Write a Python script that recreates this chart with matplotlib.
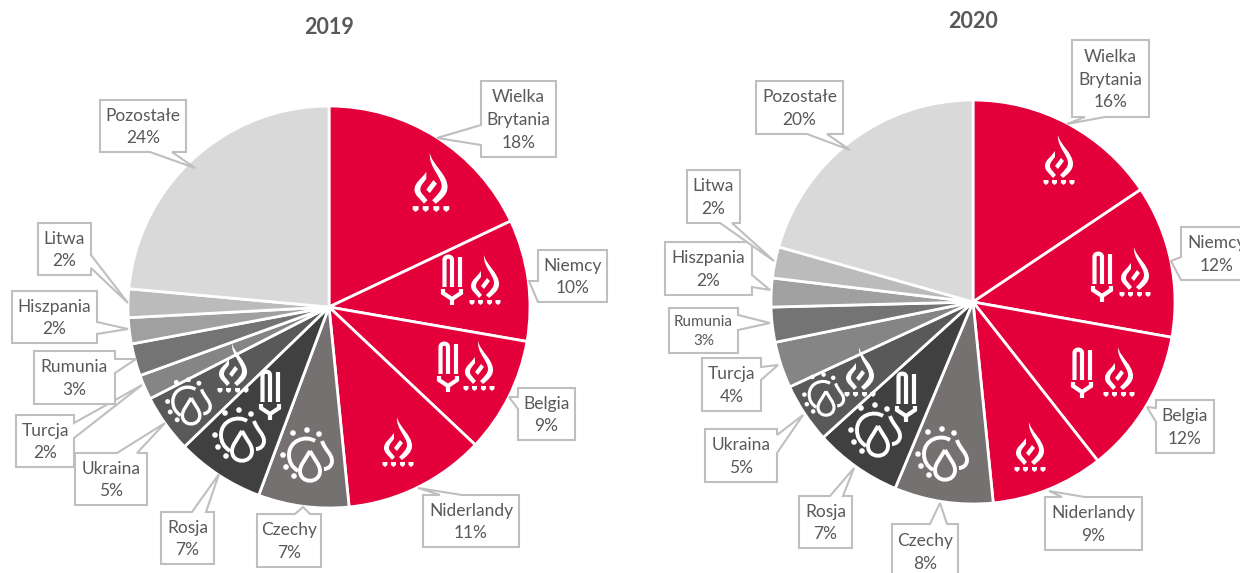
import matplotlib
matplotlib.use("Agg")
import matplotlib.pyplot as plt
from matplotlib.path import Path
from matplotlib.patches import PathPatch, Polygon, Circle

plt.rcParams['font.family'] = ['Lato', 'DejaVu Sans']

W, H = 1240, 573
TEXT_COL = "#595959"
BOX_COL = "#BFBFBF"

countries = ["Wielka\nBrytania", "Niemcy", "Belgia", "Niderlandy", "Czechy", "Rosja",
             "Ukraina", "Turcja", "Rumunia", "Hiszpania", "Litwa", "Pozostałe"]

share_2019 = [18.0, 9.8, 9.3, 11.4, 7.3, 7.1, 4.7, 2.0, 2.6, 2.1, 2.3, 23.6]
share_2020 = [15.6, 12.2, 11.6, 9.0, 7.9, 7.0, 4.8, 3.7, 2.8, 2.3, 2.5, 20.6]

pct_2019 = [18, 10, 9, 11, 7, 7, 5, 2, 3, 2, 2, 24]
pct_2020 = [16, 12, 12, 9, 8, 7, 5, 4, 3, 2, 2, 20]

colors = ["#E4003A", "#E4003A", "#E4003A", "#E4003A", "#767171", "#404040",
          "#595959", "#858585", "#747474", "#A0A0A0", "#BBBBBB", "#D9D9D9"]

# x0, y0, x1, y1, side, gap start, gap end, tip x, tip y
boxes_2019 = [
    (481, 81, 556, 157, "l", 125, 145, 437, 138),
    (538, 250, 607, 302, "l", 281, 302, 529, 281),
    (518, 388, 575, 440, "l", 397, 409, 509, 397),
    (423, 495, 519, 547, "t", 440, 462, 418, 488),
    (257, 514, 321, 567, "t", 295, 310, 303, 507),
    (161, 512, 214, 564, "t", 192, 206, 219, 474),
    (75, 453, 147, 505, "t", 117, 137, 165, 423),
    (16, 415, 74, 467, "r", 423, 438, 142, 385),
    (34, 351, 115, 404, "r", 359, 373, 136, 359),
    (12, 291, 97, 343, "r", 322, 334, 128, 329),
    (38, 223, 91, 275, "r", 255, 268, 128, 303),
    (100, 100, 186, 152, "b", 150, 172, 195, 168),
]
boxes_2020 = [
    (1072, 40, 1149, 117, "b", 1085, 1105, 1067, 124),
    (1181, 227, 1253, 280, "l", 257, 280, 1171, 261),
    (1156, 400, 1214, 453, "l", 408, 422, 1147, 407),
    (1045, 497, 1142, 550, "t", 1062, 1085, 1049, 491),
    (892, 524, 958, 579, "t", 930, 947, 940, 503),
    (799, 496, 852, 548, "t", 830, 843, 854, 468),
    (705, 429, 777, 482, "r", 435, 453, 803, 415),
    (702, 358, 761, 411, "r", 367, 380, 778, 365),
    (669, 308, 738, 353, "r", 315, 330, 770, 323),
    (665, 242, 752, 295, "r", 275, 287, 770, 290),
    (687, 170, 740, 223, "b", 720, 732, 774, 261),
    (756, 81, 843, 134, "b", 807, 827, 850, 150),
]


def callout(ax, box, label, pct, size=12.5):
    x0, y0, x1, y1, side, g0, g1, tx, ty = box
    if side == "l":
        pts = [(x0, y0), (x1, y0), (x1, y1), (x0, y1), (x0, g1), (tx, ty), (x0, g0)]
    elif side == "r":
        pts = [(x0, y0), (x1, y0), (x1, g0), (tx, ty), (x1, g1), (x1, y1), (x0, y1)]
    elif side == "t":
        pts = [(x0, y0), (g0, y0), (tx, ty), (g1, y0), (x1, y0), (x1, y1), (x0, y1)]
    else:
        pts = [(x0, y0), (x1, y0), (x1, y1), (g1, y1), (tx, ty), (g0, y1), (x0, y1)]
    ax.add_patch(Polygon(pts, closed=True, fc="white", ec=BOX_COL, lw=1.5, zorder=3))
    ax.text((x0 + x1) / 2, (y0 + y1) / 2 + 1, f"{label}\n{pct}%", ha="center", va="center",
            fontsize=size, color=TEXT_COL, linespacing=1.5, zorder=4)


def shifted(verts, cx, top, s):
    return [(cx + x * s, top + y * s) for x, y in verts]


def fill_shape(ax, verts, codes, cx, top, s):
    ax.add_patch(PathPatch(Path(shifted(verts, cx, top, s), codes), fc="white", ec="none", zorder=2))


def stroke_shape(ax, verts, codes, cx, top, s, lw=2.8):
    ax.add_patch(PathPatch(Path(shifted(verts, cx, top, s), codes), fc="none", ec="white",
                           lw=lw * s, capstyle="butt", zorder=2))


def flame(ax, cx, top, s=1.0):
    M, L, C = Path.MOVETO, Path.LINETO, Path.CURVE4
    right = [(-1, 0), (1, 10), (14, 18), (14, 29), (14, 35), (9, 39), (4, 43), (1, 40),
             (6, 35), (9, 32), (9, 28), (9, 20), (-2, 12), (-1, 0)]
    right_c = [M] + [C] * 6 + [L] + [C] * 6
    fill_shape(ax, right, right_c, cx, top, s)
    left = [(-4, 16), (-8, 22), (-14, 25), (-14, 31), (-14, 36), (-9, 39), (-6, 43), (-3, 40),
            (-6, 36), (-9, 34), (-9, 31), (-9, 27), (-6, 25), (-4, 22), (-4, 16)]
    left_c = [M] + [C] * 6 + [L] + [C] * 6 + [L]
    fill_shape(ax, left, left_c, cx, top, s)
    fill_shape(ax, [(-4, 31), (2, 23), (5, 26), (-1, 34), (-4, 31)], [M, L, L, L, L], cx, top, s)
    for dx in (-13, -4.5, 4.5, 13):
        dot = [(dx - 2.5, 45), (dx + 2.5, 45), (dx + 2.5, 48), (dx, 50), (dx - 2.5, 48), (dx - 2.5, 45)]
        fill_shape(ax, dot, [M, L, L, L, L, L], cx, top, s)


def bulb(ax, cx, top, s=1.0):
    M, L, C = Path.MOVETO, Path.LINETO, Path.CURVE4
    arch = [(-7.5, 32), (-7.5, 5), (-7.5, 0.5), (0, 0.5), (0, 5), (0, 32)]
    stroke_shape(ax, arch, [M, L, C, C, C, L], cx, top, s, lw=3.0)
    stroke_shape(ax, [(7.5, 32), (7.5, 1.5)], [M, L], cx, top, s, lw=3.0)
    fork = [(-9, 34), (-9, 38), (0, 44), (9, 38), (9, 34)]
    stroke_shape(ax, fork, [M, L, L, L, L], cx, top, s, lw=3.0)
    stroke_shape(ax, [(0, 44), (0, 50)], [M, L], cx, top, s, lw=3.0)


def sun_drops(ax, cx, top, s=1.0):
    # cx is the left edge of the icon here
    M, L, C = Path.MOVETO, Path.LINETO, Path.CURVE4
    arc = [(35, 13), (26, 7), (9, 12), (9, 27), (9, 34), (12, 39), (18, 43)]
    stroke_shape(ax, arc, [M, C, C, C, C, C, C], cx, top, s)
    for x, y in [(13, 5), (27, 2), (39, 6), (3, 27), (6, 39), (14, 48)]:
        ax.add_patch(Circle((cx + x * s, top + y * s), 2.8 * s, fc="white", ec="none", zorder=2))
    front = [(30, 23), (25, 32), (20, 37), (20, 43), (20, 56), (40, 56), (40, 43), (40, 37), (35, 32), (30, 23)]
    stroke_shape(ax, front, [M, C, C, C, C, C, C, C, C, C], cx, top, s)
    back = [(42, 13), (45, 22), (52, 26), (52, 33), (52, 38), (48, 41), (44, 41)]
    stroke_shape(ax, back, [M, C, C, C, C, C, C], cx, top, s)


fig = plt.figure(figsize=(W / 100, H / 100), dpi=100, facecolor="white")
ax = fig.add_axes([0, 0, 1, 1])

# y axis runs downward, so counterclock here turns clockwise on screen
ax.pie(share_2019, colors=colors, center=(329, 307), radius=201, startangle=-90, counterclock=True,
       wedgeprops=dict(edgecolor="white", linewidth=2))
ax.pie(share_2020, colors=colors, center=(973, 302), radius=202, startangle=-90, counterclock=True,
       wedgeprops=dict(edgecolor="white", linewidth=2))
ax.set_xlim(0, W)
ax.set_ylim(H, 0)
ax.axis("off")

ax.text(329, 28, "2019", ha="center", va="center", fontsize=15.5, fontweight="bold", color=TEXT_COL)
ax.text(973, 21, "2020", ha="center", va="center", fontsize=15.5, fontweight="bold", color=TEXT_COL)

for box, name, pct in zip(boxes_2019, countries, pct_2019):
    callout(ax, box, name, pct)
for box, name, pct in zip(boxes_2020, countries, pct_2020):
    callout(ax, box, name, pct, size=11 if name == "Rumunia" else 12.5)

# 2019 icons
flame(ax, 431, 153, 1.18)
bulb(ax, 452, 255)
flame(ax, 485, 255)
bulb(ax, 448, 342)
flame(ax, 479, 341)
flame(ax, 398, 417)
sun_drops(ax, 280, 428)
sun_drops(ax, 212, 408)
bulb(ax, 270, 370)
sun_drops(ax, 165, 378, 0.87)
flame(ax, 233, 343)

# 2020 icons
flame(ax, 1059, 135)
bulb(ax, 1102, 252)
flame(ax, 1135, 247)
bulb(ax, 1082, 348)
flame(ax, 1119, 347)
flame(ax, 1030, 422)
sun_drops(ax, 915, 427)
sun_drops(ax, 848, 403)
bulb(ax, 906, 372)
sun_drops(ax, 802, 373, 0.8)
flame(ax, 860, 347)

fig.savefig("out.png", dpi=100, facecolor="white")
plt.close(fig)
